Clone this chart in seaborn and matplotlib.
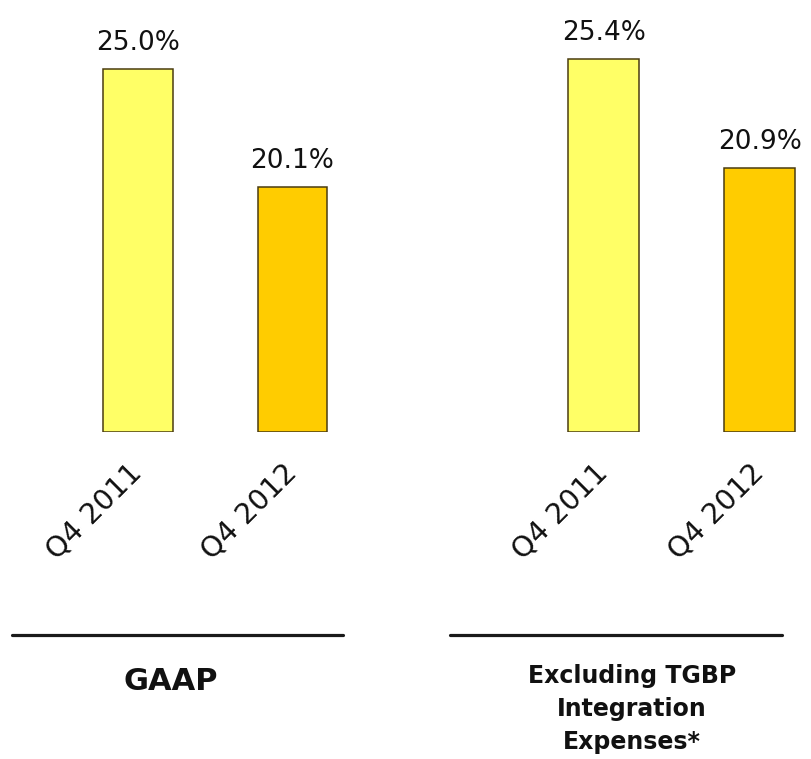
import matplotlib
matplotlib.use("Agg")
import matplotlib.pyplot as plt
import seaborn as sns
import pandas as pd
from matplotlib.lines import Line2D

# ---- data ----
periods = ["Q4 2011", "Q4 2012"]
gaap_values = [25.0, 20.1]
excl_values = [25.4, 20.9]
bar_colors = ["#FFFF66", "#FFCC00"]
group_titles = ["GAAP", "Excluding TGBP\nIntegration\nExpenses*"]

sns.set_theme(style="white")
plt.rcParams["font.family"] = ["DejaVu Sans"]

W, H = 811, 759
fig = plt.figure(figsize=(W / 100, H / 100), dpi=100)

y_base = 10.0
px_per_unit = 24.2
axis_bottom_px = 431.7
ytop = y_base + (axis_bottom_px - 1) / px_per_unit


def make_axes(left_px, width_px):
    return fig.add_axes([left_px / W, 1 - axis_bottom_px / H,
                         width_px / W, (axis_bottom_px - 1) / H])


ax_left = make_axes(60.3, 309.6)
ax_right = make_axes(525.7, 312.0)

for ax, vals in [(ax_left, gaap_values), (ax_right, excl_values)]:
    df = pd.DataFrame({"period": periods, "value": vals})
    sns.barplot(data=df, x="period", y="value", hue="period",
                palette=bar_colors, saturation=1, width=0.452,
                edgecolor="#4a3c10", linewidth=1.1, legend=False, ax=ax)
    for p in ax.patches:
        h = p.get_height()
        p.set_y(y_base)
        p.set_height(h - y_base)
    for c in ax.containers:
        ax.bar_label(c, labels=[f"{v:.1f}%" for v in c.datavalues],
                     padding=9.5, fontsize=19, color="#111111")
    ax.set_ylim(y_base, ytop)
    ax.set_xlim(-0.5, 1.5)
    ax.set_xlabel("")
    ax.set_ylabel("")
    ax.set_yticks([])
    for s in ax.spines.values():
        s.set_visible(False)
    ax.tick_params(axis="x", length=0, pad=26.5, labelsize=20.5,
                   labelcolor="#111111")
    plt.setp(ax.get_xticklabels(), rotation=45, ha="right", va="center",
             rotation_mode="anchor")
    ax.set_facecolor("none")

# group separators and titles
line_y = 1 - 635 / H
fig.add_artist(Line2D([12 / W, 343 / W], [line_y, line_y],
                      transform=fig.transFigure, lw=2.3, color="#1a1a1a"))
fig.add_artist(Line2D([450 / W, 782 / W], [line_y, line_y],
                      transform=fig.transFigure, lw=2.3, color="#1a1a1a"))

fig.text(171 / W, 1 - 682 / H, group_titles[0], ha="center", va="center",
         fontsize=22, fontweight="bold", color="#111111")
fig.text(632 / W, 1 - 709 / H, group_titles[1], ha="center", va="center",
         fontsize=17, fontweight="bold", color="#111111", linespacing=1.45)

fig.savefig("out.png", dpi=100, facecolor="white")
